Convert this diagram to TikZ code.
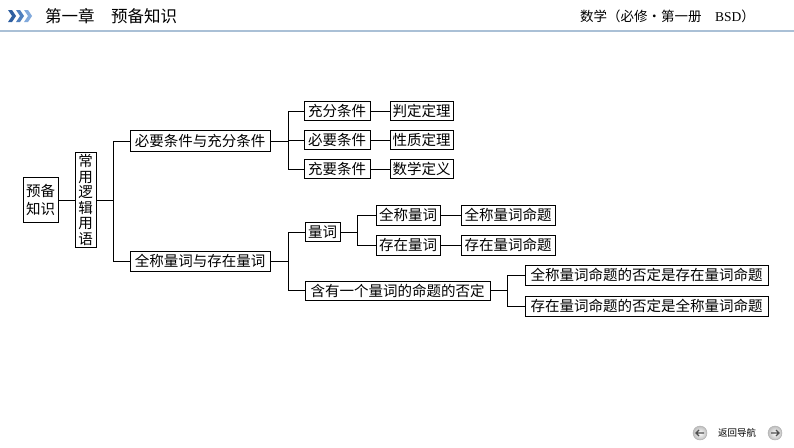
\documentclass[tikz,border=0pt]{standalone}
\usepackage{fontspec}
\setmainfont{Noto Sans CJK SC}
\newfontfamily\latinserif{Liberation Serif}
\begin{document}
\begin{tikzpicture}[x=1pt,y=-1pt,
  bx/.style={draw, line width=0.8pt, inner sep=0pt, font=\fontsize{14.5}{16}\selectfont, minimum height=19pt},
  ln/.style={line width=0.8pt},
  chev/.style={draw=none}]
\useasboundingbox (0,0) rectangle (794,447);
\fill[white] (0,0) rectangle (794,447);
% header
\fill[chev, color={rgb,255:red,47;green,95;blue,160}] (8,10) -- (12,10) -- (16,16) -- (12,22) -- (8,22) -- (12,16) -- cycle;
\fill[chev, color={rgb,255:red,80;green,128;blue,190}] (16,10) -- (20,10) -- (24,16) -- (20,22) -- (16,22) -- (20,16) -- cycle;
\fill[chev, color={rgb,255:red,130;green,170;blue,220}] (24,10) -- (28,10) -- (32,16) -- (28,22) -- (24,22) -- (28,16) -- cycle;
\node[anchor=west, inner sep=0pt, font=\fontsize{16.5}{18}\selectfont] (hl) at (45,16) {第一章\hspace{1em}预备知识};
\node[anchor=east, inner sep=0pt, font=\fontsize{13.5}{15}\selectfont] (hr) at (755,16) {数学（必修·第一册\hspace{1em}{\latinserif BSD}）};
\draw[line width=1.5pt, color={rgb,255:red,170;green,192;blue,214}] (0,31) -- (794,31);
% tree
\node[bx, minimum width=35pt, minimum height=45pt, align=center] (yb) at (40.5,200) {预备\\[2pt]知识};
\node[bx, minimum width=21pt, minimum height=95pt, align=center, font=\fontsize{14.5}{15.5}\selectfont] (cy) at (85.5,200) {常\\用\\逻\\辑\\用\\语};
\node[bx, minimum width=140pt, minimum height=21pt] (bc) at (200,141) {必要条件与充分条件};
\node[bx, minimum width=140pt, minimum height=20pt] (qc) at (200,261) {全称量词与存在量词};
\node[bx, minimum width=66pt] (cf) at (337,111) {充分条件};
\node[bx, minimum width=63pt] (pd) at (421.5,111) {判定定理};
\node[bx, minimum width=66pt] (by) at (337,140) {必要条件};
\node[bx, minimum width=63pt] (xz) at (421.5,140) {性质定理};
\node[bx, minimum width=66pt] (cy2) at (337,169) {充要条件};
\node[bx, minimum width=63pt] (sx) at (421.5,169) {数学定义};
\node[bx, minimum width=35pt] (lc) at (322.5,232) {量词};
\node[bx, minimum width=64pt, minimum height=20pt] (qcl) at (408,215) {全称量词};
\node[bx, minimum width=94pt, minimum height=20pt] (qcm) at (508,215) {全称量词命题};
\node[bx, minimum width=64pt, minimum height=20pt] (zcl) at (408,245) {存在量词};
\node[bx, minimum width=94pt, minimum height=20pt] (zcm) at (508,245) {存在量词命题};
\node[bx, minimum width=185pt] (hy) at (397.5,290.5) {含有一个量词的命题的否定};
\node[bx, minimum width=243pt, minimum height=20pt] (n1) at (646.5,275) {全称量词命题的否定是存在量词命题};
\node[bx, minimum width=243pt, minimum height=20pt] (n2) at (646.5,306) {存在量词命题的否定是全称量词命题};
% connectors
\draw[ln] (yb.east) -- (cy.west);
\coordinate (j1) at (113,200);
\draw[ln] (cy.east) -- (j1);
\draw[ln] (j1) |- (bc.west);
\draw[ln] (j1) |- (qc.west);
\coordinate (j2) at (288,141);
\draw[ln] (bc.east) -- (j2);
\draw[ln] (j2) |- (cf.west);
\draw[ln] (j2) |- (by.west);
\draw[ln] (j2) |- (cy2.west);
\draw[ln] (cf.east) -- (pd.west);
\draw[ln] (by.east) -- (xz.west);
\draw[ln] (cy2.east) -- (sx.west);
\coordinate (j3) at (288,261);
\draw[ln] (qc.east) -- (j3);
\draw[ln] (j3) |- (lc.west);
\draw[ln] (j3) |- (hy.west);
\coordinate (j4) at (357,232);
\draw[ln] (lc.east) -- (j4);
\draw[ln] (j4) |- (qcl.west);
\draw[ln] (j4) |- (zcl.west);
\draw[ln] (qcl.east) -- (qcm.west);
\draw[ln] (zcl.east) -- (zcm.west);
\coordinate (j5) at (507,290.5);
\draw[ln] (hy.east) -- (j5);
\draw[ln] (j5) |- (n1.west);
\draw[ln] (j5) |- (n2.west);
% navigation
\shade[inner color=white, outer color={rgb,255:red,190;green,190;blue,190}] (700,433) circle (7);
\draw[line width=0.4pt, color={rgb,255:red,170;green,170;blue,170}] (700,433) circle (7);
\draw[line width=1.1pt, color={rgb,255:red,80;green,80;blue,80}] (704,433) -- (696,433) (699,430) -- (696,433) -- (699,436);
\node[inner sep=0pt, font=\fontsize{9.5}{10}\selectfont] (nav) at (737,433) {返回导航};
\shade[inner color=white, outer color={rgb,255:red,190;green,190;blue,190}] (775,433) circle (7);
\draw[line width=0.4pt, color={rgb,255:red,170;green,170;blue,170}] (775,433) circle (7);
\draw[line width=1.1pt, color={rgb,255:red,80;green,80;blue,80}] (771,433) -- (779,433) (776,430) -- (779,433) -- (776,436);
\end{tikzpicture}
\end{document}
